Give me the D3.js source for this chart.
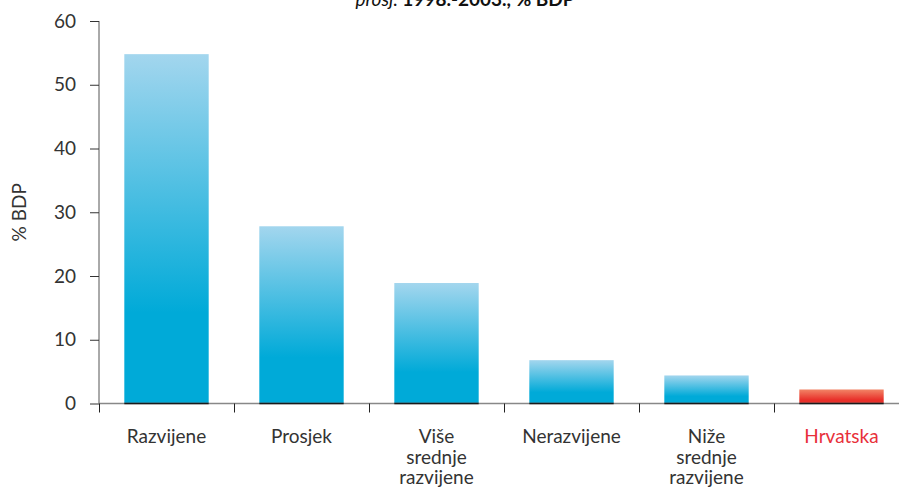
<!DOCTYPE html>
<html>
<head>
<meta charset="utf-8">
<script src="https://cdn.jsdelivr.net/npm/d3@7"></script>
<style>
  body { margin: 0; background: #fff; }
  svg { display: block; font-family: Lato, "Open Sans", sans-serif; }
</style>
</head>
<body>
<script>
// values
var categories = ["Razvijene", "Prosjek", "Više srednje razvijene", "Nerazvijene", "Niže srednje razvijene", "Hrvatska"];
var labelLines = [["Razvijene"], ["Prosjek"], ["Više", "srednje", "razvijene"], ["Nerazvijene"], ["Niže", "srednje", "razvijene"], ["Hrvatska"]];
var values = [54.8, 27.8, 18.9, 6.8, 4.4, 2.2];
var yTicks = [0, 10, 20, 30, 40, 50, 60];

var svg = d3.select("body").append("svg").attr("width", 899).attr("height", 488),
    margin = {top: 21, left: 99, bottom: 85};
var height = 488 - margin.bottom;

var x = d3.scaleBand().domain(categories).range([margin.left, 909])
    .paddingInner(0.375).paddingOuter(0.1875);
var y = d3.scaleLinear().domain([0, 60]).range([height + 0.5, margin.top]);

var defs = svg.append("defs");
function grad(id, top, bottom) {
    var g = defs.append("linearGradient").attr("id", id)
        .attr("x1", 0).attr("y1", 0).attr("x2", 0).attr("y2", 1);
    g.append("stop").attr("offset", "0%").attr("stop-color", top);
    g.append("stop").attr("offset", "74%").attr("stop-color", bottom);
    g.append("stop").attr("offset", "100%").attr("stop-color", bottom);
}
grad("blue", "#a3d6ee", "#00aad8");
grad("red", "#f28466", "#e8302a");

// title (cut off at top in the original)
var title = svg.append("text").attr("x", 465).attr("y", 6)
    .attr("text-anchor", "middle").attr("font-size", 19).attr("fill", "#111");
title.append("tspan").attr("font-style", "italic").text("prosj. ");
title.append("tspan").attr("font-weight", "bold").text("1998.-2003., % BDP");

// y axis
var yAxis = svg.append("g")
    .attr("transform", "translate(" + margin.left + ",0)")
    .call(d3.axisLeft(y).tickValues(yTicks).tickSize(9).tickPadding(14));
yAxis.select(".domain").attr("stroke", "#555").attr("d", "M0," + y(60) + "V" + y(0));
yAxis.selectAll(".tick line").attr("stroke", "#333");
yAxis.selectAll(".tick text").attr("font-size", 19).attr("fill", "#333")
    .attr("font-family", "Lato, sans-serif");

svg.append("text")
    .attr("transform", "translate(26," + y(30) + ") rotate(-90)")
    .attr("text-anchor", "middle").attr("font-size", 19).attr("fill", "#333")
    .text("% BDP");

// bars
svg.selectAll(".bar")
    .data(values)
    .enter().append("rect")
    .attr("class", "bar")
    .attr("x", function (d, i) { return x(categories[i]); })
    .attr("width", x.bandwidth())
    .attr("y", function (d) { return y(d); })
    .attr("height", function (d) { return y(0) - y(d); })
    .attr("fill", function (d, i) { return i === 5 ? "url(#red)" : "url(#blue)"; });

// x axis line and ticks at band boundaries
svg.append("line")
    .attr("x1", margin.left).attr("x2", 899)
    .attr("y1", y(0)).attr("y2", y(0))
    .attr("stroke", "#888").attr("stroke-width", 1.5);

svg.selectAll(".barbase")
    .data(values)
    .enter().append("line")
    .attr("x1", function (d, i) { return x(categories[i]); })
    .attr("x2", function (d, i) { return x(categories[i]) + x.bandwidth(); })
    .attr("y1", y(0)).attr("y2", y(0))
    .attr("stroke", "#1a1a1a").attr("stroke-width", 1.5);

var gap = (x.step() - x.bandwidth()) / 2;
svg.selectAll(".xtick")
    .data(categories)
    .enter().append("line")
    .attr("x1", function (d) { return Math.round(x(d) - gap) + 0.5; })
    .attr("x2", function (d) { return Math.round(x(d) - gap) + 0.5; })
    .attr("y1", y(0)).attr("y2", y(0) + 9)
    .attr("stroke", "#222");

// category labels
var labels = svg.selectAll(".xlabel")
    .data(categories)
    .enter().append("text")
    .attr("text-anchor", "middle")
    .attr("font-size", 19)
    .attr("fill", function (d, i) { return i === 5 ? "#e8303a" : "#333"; })
    .attr("y", 443);

labels.each(function (d, i) {
    var t = d3.select(this);
    labelLines[i].forEach(function (line, j) {
        t.append("tspan")
            .attr("x", x(d) + x.bandwidth() / 2)
            .attr("dy", j === 0 ? 0 : 20.5)
            .text(line);
    });
});
</script>
</body>
</html>
